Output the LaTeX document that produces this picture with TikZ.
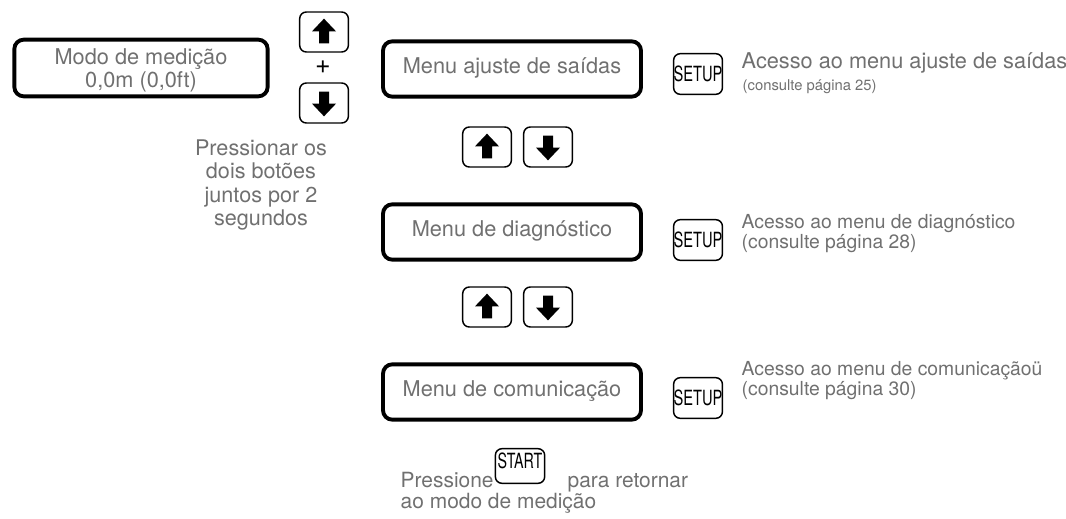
\documentclass[tikz,border=0pt]{standalone}
\usepackage{fontspec}
\setmainfont{TeX Gyre Heros}
\usetikzlibrary{positioning}
\definecolor{txtgray}{HTML}{707070}

\begin{document}
\begin{tikzpicture}[x=0.75pt, y=-0.75pt,
    every node/.style={font=\fontsize{16.3}{19}\selectfont, text=txtgray},
    menuBox/.style={draw=black, line width=2.9pt, rounded corners=7pt, minimum width=193.5pt, minimum height=41.5pt, inner sep=0pt, text depth=0.55em},
    keyBox/.style={draw=black, line width=1.1pt, rounded corners=5pt, minimum width=36.5pt, minimum height=30pt, inner sep=0pt},
    upKey/.style={keyBox, path picture={\fill[black, sharp corners] ([yshift=10pt]path picture bounding box.center) -- ++(-9pt,-9.5pt) -- ++(5.25pt,0pt) -- ++(0pt,-9pt) -- ++(7.5pt,0pt) -- ++(0pt,9pt) -- ++(5.25pt,0pt) -- cycle;}},
    downKey/.style={keyBox, path picture={\fill[black, sharp corners] ([yshift=-10pt]path picture bounding box.center) -- ++(-9pt,9.5pt) -- ++(5.25pt,0pt) -- ++(0pt,9pt) -- ++(7.5pt,0pt) -- ++(0pt,-9pt) -- ++(5.25pt,0pt) -- cycle;}},
    labelKey/.style={keyBox, text=black, font=\fontsize{15.7}{16}\selectfont},
    noteLine/.style={anchor=base west}
]
    \useasboundingbox (0,0) rectangle (1066,518);

    % Modo de medicao e botoes juntos
    \node[menuBox, minimum width=190pt, minimum height=42.5pt, text depth=0pt, align=center, font=\fontsize{16.3}{14.5}\selectfont] (modo) at (141,68) {Modo de medição\\0,0m (0,0ft)};
    \node[upKey] (up0) at (324,32) {};
    \node[downKey] (down0) at (324,103) {};
    \node[text=black, font=\fontsize{20}{20}\selectfont] (plus) at (323,67) {+};
    \node[align=center, font=\fontsize{16.2}{17.3}\selectfont] (press) at (261,185) {Pressionar os\\dois botões\\juntos por 2\\segundos};

    % Menus
    \node[menuBox] (ajuste) at (512,69) {Menu ajuste de saídas};
    \node[menuBox] (diag) at (512,232) {Menu de diagnóstico};
    \node[menuBox] (comun) at (512,392) {Menu de comunicação};

    % Navegacao entre menus
    \node[upKey] (up1) at (487,147) {};
    \node[downKey] (down1) at (548,147) {};
    \node[upKey] (up2) at (487,307) {};
    \node[downKey] (down2) at (548,307) {};

    % Teclas SETUP e textos
    \node[labelKey, minimum height=30.5pt] (setup1) at (698,74) {\scalebox{0.7}[1]{SETUP}};
    \node[labelKey, minimum height=30.5pt] (setup2) at (698,240) {\scalebox{0.7}[1]{SETUP}};
    \node[labelKey, minimum height=30.5pt] (setup3) at (698,398) {\scalebox{0.7}[1]{SETUP}};

    \node[noteLine] (acc1) at (737,68) {Acesso ao menu ajuste de saídas};
    \node[noteLine, font=\fontsize{11.1}{13}\selectfont] (pag1) at (738,90) {(consulte página 25)};
    \node[noteLine, font=\fontsize{14.5}{17}\selectfont] (acc2) at (737,228) {Acesso ao menu de diagnóstico};
    \node[noteLine, font=\fontsize{14.5}{17}\selectfont] (pag2) at (737,248) {(consulte página 28)};
    \node[noteLine, font=\fontsize{14.5}{17}\selectfont] (acc3) at (737,375) {Acesso ao menu de comunicaçãoü};
    \node[noteLine, font=\fontsize{14.5}{17}\selectfont] (pag3) at (737,395) {(consulte página 30)};

    % Retorno com START
    \node[labelKey, minimum width=37pt, minimum height=26pt, text depth=0.86em] (start) at (520,466) {\scalebox{0.68}[1]{START}};
    \node[noteLine, font=\fontsize{15.7}{19}\selectfont] (ret1) at (396,487) {Pressione};
    \node[noteLine, font=\fontsize{15.7}{19}\selectfont] (ret2) at (563,487) {para retornar};
    \node[noteLine, font=\fontsize{15.7}{19}\selectfont] (ret3) at (396,508) {ao modo de medição};
\end{tikzpicture}
\end{document}
